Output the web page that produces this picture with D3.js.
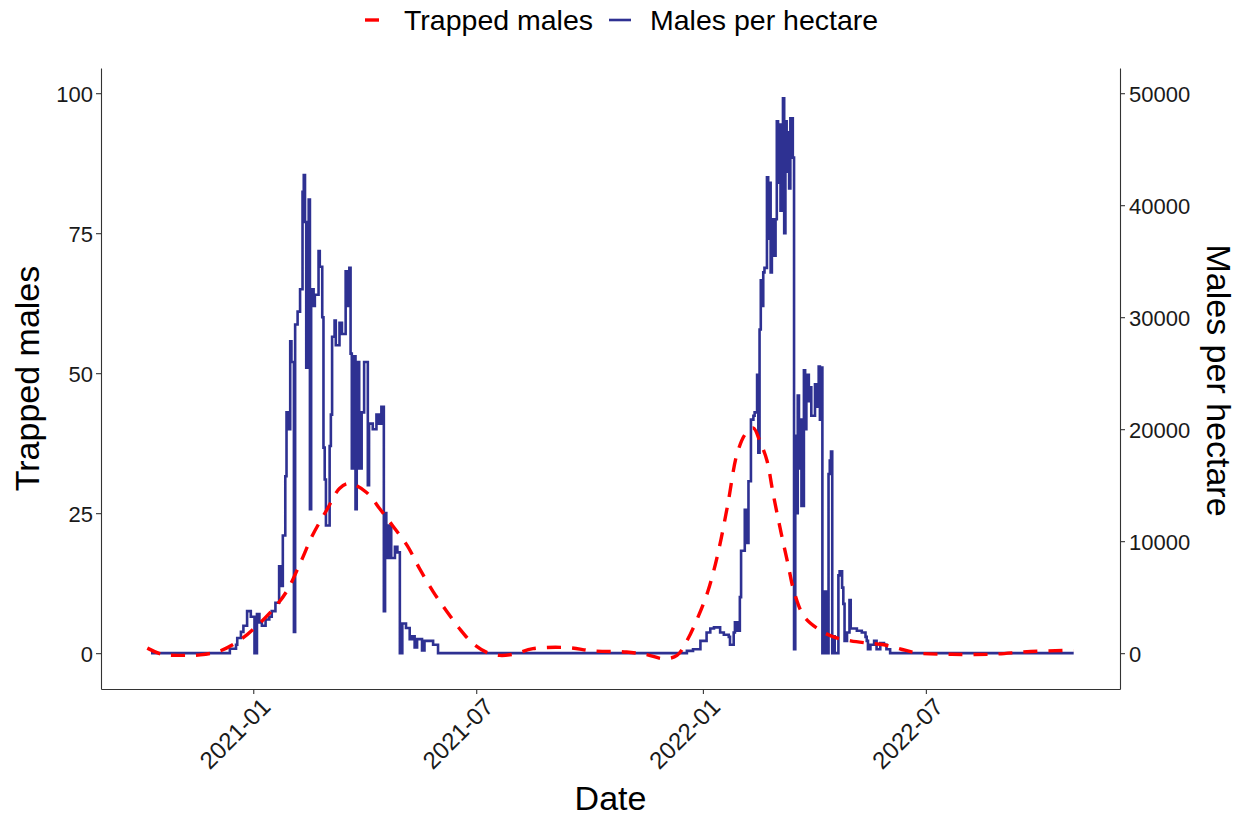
<!DOCTYPE html>
<html><head><meta charset="utf-8">
<script src="https://cdn.jsdelivr.net/npm/d3@7/dist/d3.min.js"></script>
<style>body{margin:0;background:#fff}svg{display:block}</style>
</head><body><svg id="c" width="1244" height="817"></svg>
<script>
// ---------- data ----------
const trapDates = ["2020-10-07","2020-10-19","2020-11-05","2020-11-19","2020-12-05","2020-12-21","2021-01-04","2021-01-17","2021-01-28","2021-02-08","2021-02-18","2021-03-02","2021-03-12","2021-03-20","2021-04-03","2021-04-14","2021-04-24","2021-05-06","2021-05-16","2021-05-27","2021-06-07","2021-06-17","2021-06-28","2021-07-10","2021-07-20","2021-07-31","2021-08-16","2021-09-13","2021-10-04","2021-10-31","2021-11-17","2021-11-30","2021-12-11","2021-12-19","2021-12-27","2022-01-05","2022-01-13","2022-01-21","2022-01-29","2022-02-05","2022-02-11","2022-02-16","2022-02-22","2022-02-27","2022-03-05","2022-03-11","2022-03-16","2022-03-24","2022-04-04","2022-04-17","2022-05-01","2022-05-15","2022-05-28","2022-06-11","2022-06-25","2022-07-22","2022-08-23","2022-09-24","2022-10-29"];
const trapValues = [0.9,-0.2,-0.4,-0.3,0.4,2.3,4.9,7.8,11,16,21,25.7,29.4,30.3,28.7,25.7,22.8,19.2,15.1,11,7.5,4.5,1.8,0.1,-0.4,-0.2,0.8,1.0,0.4,0.2,-0.3,-1.0,-0.4,2.2,5.9,11,17.6,26.3,35.8,39.3,40.2,38,34.4,28.5,22,16,11,6.6,4.4,2.9,2.2,1.8,1.5,0.7,0,-0.2,-0.2,0.3,0.5];

const hectareDates = ["2020-10-10","2020-12-13","2020-12-18","2020-12-19","2020-12-22","2020-12-24","2020-12-27","2020-12-30","2021-01-02","2021-01-04","2021-01-06","2021-01-08","2021-01-11","2021-01-14","2021-01-16","2021-01-19","2021-01-22","2021-01-23","2021-01-25","2021-01-27","2021-01-28","2021-01-30","2021-01-31","2021-02-01","2021-02-03","2021-02-04","2021-02-06","2021-02-08","2021-02-10","2021-02-11","2021-02-12","2021-02-13","2021-02-15","2021-02-16","2021-02-17","2021-02-19","2021-02-20","2021-02-23","2021-02-24","2021-02-26","2021-02-27","2021-02-28","2021-03-01","2021-03-04","2021-03-05","2021-03-06","2021-03-08","2021-03-09","2021-03-12","2021-03-14","2021-03-17","2021-03-18","2021-03-20","2021-03-21","2021-03-22","2021-03-23","2021-03-25","2021-03-26","2021-03-28","2021-03-30","2021-04-01","2021-04-04","2021-04-05","2021-04-08","2021-04-11","2021-04-13","2021-04-15","2021-04-17","2021-04-18","2021-04-19","2021-04-21","2021-04-23","2021-04-26","2021-04-28","2021-04-30","2021-05-02","2021-05-05","2021-05-08","2021-05-10","2021-05-12","2021-05-14","2021-05-18","2021-05-20","2021-05-24","2021-05-27","2021-05-31","2021-12-15","2021-12-19","2021-12-24","2021-12-30","2022-01-04","2022-01-07","2022-01-10","2022-01-15","2022-01-18","2022-01-22","2022-01-23","2022-01-26","2022-01-27","2022-01-29","2022-01-31","2022-02-01","2022-02-04","2022-02-06","2022-02-07","2022-02-09","2022-02-11","2022-02-12","2022-02-14","2022-02-15","2022-02-16","2022-02-17","2022-02-18","2022-02-19","2022-02-20","2022-02-22","2022-02-23","2022-02-24","2022-02-25","2022-02-26","2022-02-27","2022-03-01","2022-03-02","2022-03-03","2022-03-04","2022-03-05","2022-03-06","2022-03-07","2022-03-08","2022-03-09","2022-03-10","2022-03-11","2022-03-12","2022-03-13","2022-03-15","2022-03-16","2022-03-17","2022-03-18","2022-03-19","2022-03-20","2022-03-21","2022-03-22","2022-03-24","2022-03-25","2022-03-26","2022-03-28","2022-03-29","2022-03-30","2022-04-02","2022-04-03","2022-04-05","2022-04-06","2022-04-07","2022-04-08","2022-04-10","2022-04-11","2022-04-13","2022-04-14","2022-04-15","2022-04-16","2022-04-17","2022-04-18","2022-04-21","2022-04-22","2022-04-24","2022-04-25","2022-04-26","2022-04-28","2022-04-30","2022-05-01","2022-05-03","2022-05-06","2022-05-10","2022-05-13","2022-05-14","2022-05-15","2022-05-17","2022-05-20","2022-05-22","2022-05-25","2022-05-28","2022-05-30","2022-06-02","2022-10-29"];
const hectareValues = [0,400,750,1350,1900,2450,3750,3250,0,3500,2750,2450,3000,3250,3750,4500,7750,6000,10500,15800,21500,20000,27850,26000,1900,29350,30500,32500,41200,42700,38500,25500,40500,12850,32500,31000,32000,35900,34500,30000,18350,15500,11400,18500,21300,28250,29700,27500,29500,28500,34100,31000,34400,26750,16500,26500,12850,26000,16500,21500,26000,15000,20500,20000,21300,20500,22000,3750,12500,8500,11400,8500,9500,9000,0,2650,2250,1250,1500,500,1250,250,1100,1100,750,0,0,200,350,1100,1850,2200,2300,1850,1650,1450,750,1850,2750,2000,5000,9150,12800,9850,15350,20850,21200,21500,24850,17900,28900,33300,31000,34000,34400,42500,37000,42000,34000,38750,35500,38750,47500,42000,47200,39500,43150,49550,37500,47500,43000,46500,41500,47750,44250,350,19400,12500,23000,16500,20850,13150,25250,20000,24850,22500,23750,21200,24000,22000,25600,20850,25500,0,5500,0,16000,17200,18000,0,1500,0,6950,7300,5850,4400,1100,1850,4750,2200,2200,2000,1850,1450,1100,350,750,1100,350,900,750,350,0,0];

const leftTicks = [0,25,50,75,100];
const rightTicks = [0,10000,20000,30000,40000,50000];
const xTickLabels = ["2021-01","2021-07","2022-01","2022-07"];
const seriesNames = ["Trapped males","Males per hectare"];
const seriesColors = ["#FF0000","#2E3192"];
const axisTitles = {x:"Date", left:"Trapped males", right:"Males per hectare"};

// ---------- layout ----------
const W = 1244, H = 817;
const m = {left:101, right:124, top:68, bottom:128};
const iw = W - m.left - m.right, ih = H - m.top - m.bottom;
const FONT = "'Liberation Sans', Arial, sans-serif";
const parse = d3.timeParse("%Y-%m-%d");
const ratio = 500; // right axis = left * 500

const trap = trapDates.map((d,i)=>({date:parse(d), v:trapValues[i]}));
const hect = hectareDates.map((d,i)=>({date:parse(d), v:hectareValues[i]}));

// x domain with 5% expansion (ggplot default)
const allDates = trap.map(d=>d.date).concat(hect.map(d=>d.date));
const [d0,d1] = d3.extent(allDates);
const span = d1 - d0;
const x = d3.scaleTime().domain([new Date(+d0 - span*0.05), new Date(+d1 + span*0.05)]).range([0, iw]);
const yL = d3.scaleLinear().domain([-6.4, 104.5]).range([ih, 0]);
const yR = d3.scaleLinear().domain([-6.4*ratio, 104.5*ratio]).range([ih, 0]);

const svg = d3.select("#c");
svg.append("rect").attr("width",W).attr("height",H).attr("fill","#fff");
const g = svg.append("g").attr("transform",`translate(${m.left},${m.top})`);

// lines
g.append("path").datum(hect)
  .attr("fill","none").attr("stroke",seriesColors[1]).attr("stroke-width",2.6)
  .attr("stroke-linejoin","miter")
  .attr("d", d3.line().x(d=>x(d.date)).y(d=>yR(d.v)).curve(d3.curveStepAfter));

g.append("path").datum(trap)
  .attr("fill","none").attr("stroke",seriesColors[0]).attr("stroke-width",3.4)
  .attr("stroke-dasharray","14,11")
  .attr("d", d3.line().x(d=>x(d.date)).y(d=>yL(d.v)).curve(d3.curveCatmullRom.alpha(0.5)));

// axes
const tickDates = xTickLabels.map(s=>parse(s+"-01"));
const axCol = "#333";
function styleAxis(sel, fs){
  sel.select(".domain").attr("stroke",axCol).attr("stroke-width",1.1);
  sel.selectAll(".tick line").attr("stroke",axCol).attr("stroke-width",1.1);
  sel.selectAll(".tick text").attr("fill","#1a1a1a").style("font-family",FONT).style("font-size",fs);
}
const gx = g.append("g").attr("transform",`translate(0,${ih})`)
  .call(d3.axisBottom(x).tickValues(tickDates).tickSize(5).tickSizeOuter(0).tickFormat((d,i)=>xTickLabels[i]));
styleAxis(gx, "24px");
gx.selectAll(".tick text")
  .attr("text-anchor","end")
  .attr("transform","translate(6,7) rotate(-45)")
  .attr("x",0).attr("y",0).attr("dy","0.72em");

const gl = g.append("g").call(d3.axisLeft(yL).tickValues(leftTicks).tickSize(5).tickSizeOuter(0).tickPadding(3));
styleAxis(gl, "22px");
gl.selectAll(".tick text").attr("dy","0.36em");
const gr = g.append("g").attr("transform",`translate(${iw},0)`)
  .call(d3.axisRight(yR).tickValues(rightTicks).tickSize(5).tickSizeOuter(0).tickPadding(4).tickFormat(d3.format("d")));
styleAxis(gr, "22px");
gr.selectAll(".tick text").attr("dy","0.36em");

// axis titles
svg.append("text").attr("x", m.left + iw/2).attr("y", 810)
  .attr("text-anchor","middle").style("font-family",FONT).style("font-size","34px").attr("fill","#000").text(axisTitles.x);
svg.append("text").attr("transform",`translate(39,${m.top+ih/2}) rotate(-90)`)
  .attr("text-anchor","middle").style("font-family",FONT).style("font-size","34px").attr("fill","#000").text(axisTitles.left);
svg.append("text").attr("transform",`translate(1207,${m.top+ih/2+2}) rotate(90)`)
  .attr("text-anchor","middle").style("font-family",FONT).style("font-size","34px").attr("fill","#000").text(axisTitles.right);

// legend
const lg = svg.append("g").style("font-family",FONT).style("font-size","28.5px");
const legendItems = [
  {name:seriesNames[0], color:seriesColors[0], x1:365, x2:379, tx:404, w:3.4},
  {name:seriesNames[1], color:seriesColors[1], x1:609, x2:631, tx:650, w:2.6}
];
legendItems.forEach(it=>{
  lg.append("line").attr("x1",it.x1).attr("x2",it.x2).attr("y1",20).attr("y2",20)
    .attr("stroke",it.color).attr("stroke-width",it.w);
  lg.append("text").attr("x",it.tx).attr("y",20).attr("dy","0.35em").attr("fill","#000").text(it.name);
});
</script>
</body></html>
